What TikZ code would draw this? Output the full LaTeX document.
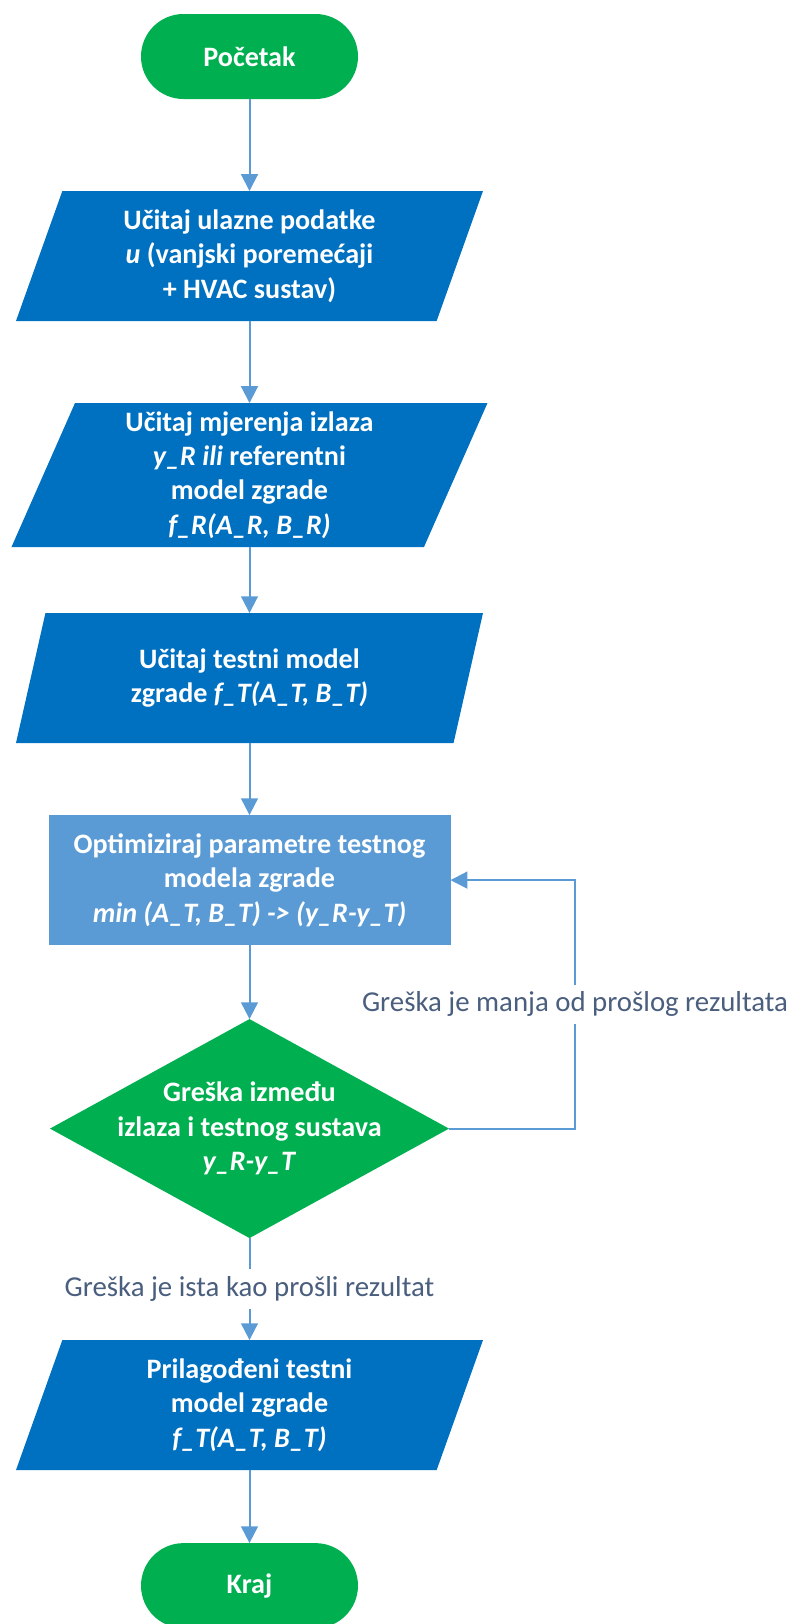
\documentclass[tikz,border=0pt]{standalone}
\usepackage{fontspec}
\setmainfont{Carlito}
\usepackage{xcolor}
\usetikzlibrary{%
  shapes.geometric, shapes.misc, positioning, arrows.meta
}
\definecolor{termgreen}{HTML}{00B050}
\definecolor{iodark}{HTML}{0070C0}
\definecolor{proclight}{HTML}{5B9BD5}
\definecolor{flowline}{HTML}{5B9BD5}
\definecolor{labeltext}{HTML}{4A5E7E}
\tikzstyle{term} = [%
  rounded rectangle,
  draw=none,
  fill=termgreen,
  minimum width=5.425cm,
  minimum height=2.125cm,
  inner sep=0pt
]
\tikzstyle{io} = [%
  trapezium,
  trapezium left angle=63.4,
  trapezium right angle=116.6,
  trapezium stretches body,
  draw=none,
  fill=iodark,
  minimum width=11.675cm,
  minimum height=3.25cm,
  inner sep=0pt
]
\tikzstyle{proc} = [%
  rectangle,
  draw=none,
  fill=proclight,
  minimum width=10.05cm,
  minimum height=3.25cm,
  inner sep=0pt
]
\tikzstyle{dec} = [%
  diamond,
  aspect=1.82,
  draw=none,
  fill=termgreen,
  minimum width=9.975cm,
  minimum height=5.475cm,
  inner sep=-0.25cm
]

\begin{document}
\begin{tikzpicture}[%
  >={Triangle[width=0.42cm,length=0.42cm]},
  every node/.style={%
    font=\fontsize{20}{24.4}\selectfont\bfseries,
    text=white,
    text centered,
    align=center,
    outer sep=0pt
  },
  flow/.style={->,draw=flowline,line width=0.05cm},
  lbl/.style={fill=white,text=labeltext,inner sep=0.18cm,
    font=\fontsize{20.5}{24.4}\selectfont}
]

  \useasboundingbox (0,0) rectangle (19.8,-40.6);

  % Nodes
  \node[term] (T1) at (6.2375,-1.4125) {Početak};
  \node[io,below=2.3cm of T1] (D1) {Učitaj ulazne podatke\\ \textit{u} (vanjski poremećaji\\ + HVAC sustav)};
  \node[io,minimum height=3.6cm,minimum width=11.9cm,below=2.05cm of D1] (D2) {Učitaj mjerenja izlaza\\ \textit{y\_R ili} referentni\\ model zgrade\\ \textit{f\_R(A\_R, B\_R)}};
  \node[io,below=1.65cm of D2] (D3) {Učitaj testni model\\ zgrade \textit{f\_T(A\_T, B\_T)}};
  \node[proc,below=1.8cm of D3] (P1) {Optimiziraj parametre testnog\\ modela zgrade\\ \textit{min (A\_T, B\_T) -> (y\_R-y\_T)}};
  \node[dec,below=1.85cm of P1] (C1) {Greška između\\ izlaza i testnog sustava\\ \textit{y\_R-y\_T}};
  \node[io,below=2.55cm of C1] (D4) {Prilagođeni testni\\ model zgrade\\ \textit{f\_T(A\_T, B\_T)}};
  \node[term,below=1.825cm of D4] (T2) {Kraj};

  % Edges
  \draw[flow] (T1.south) -- (D1.north);
  \draw[flow] (D1.south) -- (D2.north);
  \draw[flow] (D2.south) -- (D3.north);
  \draw[flow] (D3.south) -- (P1.north);
  \draw[flow] (P1.south) -- (C1.north);
  \draw[flow] (C1.east) -- ++(3.15,0) |- node[lbl,pos=0.25] {Greška je manja od prošlog rezultata} (P1.east);
  \draw[flow] (C1.south) -- node[lbl,midway] {Greška je ista kao prošli rezultat} (D4.north);
  \draw[flow] (D4.south) -- (T2.north);

\end{tikzpicture}
\end{document}
